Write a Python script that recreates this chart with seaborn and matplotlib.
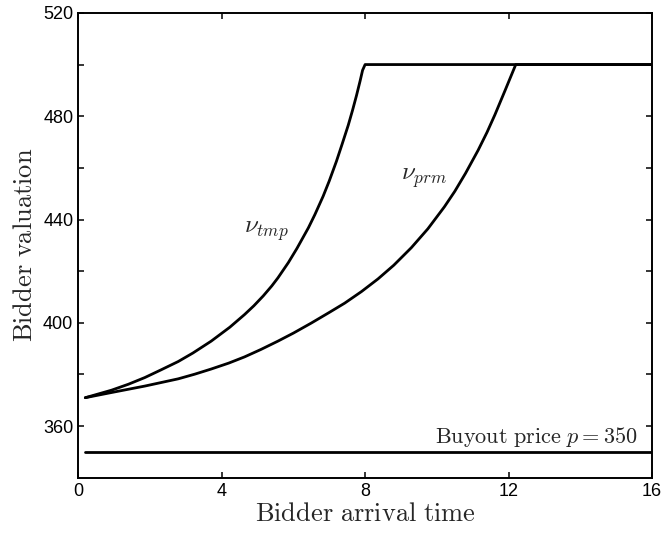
import pandas as pd
import numpy as np
import matplotlib
matplotlib.use('Agg')
import matplotlib.pyplot as plt
import seaborn as sns

# temporary-buyout bidder valuation threshold
tmp_time = [0.2, 0.93, 1.4, 1.86, 2.3, 2.79, 3.2, 3.71, 4.23, 4.64, 4.9, 5.16, 5.4, 5.57, 5.86,
            6.1, 6.42, 6.6, 6.83, 7.0, 7.2, 7.36, 7.53, 7.65, 7.76, 7.86, 7.93, 8.0, 16]
tmp_value = [371, 373.9, 376.2, 378.8, 381.7, 385.0, 388.3, 392.9, 398.3, 403.2, 406.6, 410.4, 414.3, 417.4, 423.3,
             428.8, 436.8, 441.9, 449.0, 454.9, 462.5, 469.2, 476.5, 482.3, 488.0, 493.6, 497.8, 500, 500]

# permanent-buyout bidder valuation threshold
prm_time = [0.2, 0.93, 1.86, 2.79, 3.25, 3.71, 4.2, 4.64, 5.1, 5.57, 6.0, 6.5, 7.0, 7.43, 7.9, 8.36,
            8.8, 9.29, 9.75, 10.21, 10.5, 10.8, 11.15, 11.4, 11.62, 11.9, 12.2, 16]
prm_value = [371, 373.0, 375.5, 378.3, 380.1, 382.1, 384.4, 386.8, 389.7, 392.9, 396.0, 399.9, 404.0, 407.6, 412.1, 417.0,
             422.3, 429.1, 436.4, 444.9, 450.9, 457.9, 466.8, 473.8, 480.6, 489.9, 500, 500]

buyout_time = [0.2, 16]
buyout_value = [350, 350]

df = pd.concat([
    pd.DataFrame({'time': tmp_time, 'value': tmp_value, 'curve': 'tmp'}),
    pd.DataFrame({'time': prm_time, 'value': prm_value, 'curve': 'prm'}),
    pd.DataFrame({'time': buyout_time, 'value': buyout_value, 'curve': 'buyout'}),
])

sns.set_style('ticks')
plt.rcParams['font.family'] = ['Liberation Sans', 'DejaVu Sans']
plt.rcParams['mathtext.fontset'] = 'cm'

fig, ax = plt.subplots(figsize=(6.62, 5.38), dpi=100)
sns.lineplot(data=df, x='time', y='value', hue='curve',
             palette={'tmp': 'black', 'prm': 'black', 'buyout': 'black'},
             estimator=None, sort=False, legend=False, linewidth=2.0, ax=ax)
for line in ax.lines:
    line.set_solid_joinstyle('round')

ax.set_xlim(0, 16)
ax.set_ylim(340, 520)
ax.set_xticks([0, 4, 8, 12, 16])
ax.set_yticks([360, 400, 440, 480, 520])
ax.set_yticks([380, 420, 460, 500], minor=True)
ax.tick_params(axis='both', which='both', direction='in', top=True, right=True,
               labelsize=13, length=4, width=1.1, colors='black')
for s in ax.spines.values():
    s.set_linewidth(1.4)
    s.set_color('black')

ax.set_xlabel(r'$\mathrm{Bidder\ arrival\ time}$', fontsize=19, labelpad=2)
ax.set_ylabel(r'$\mathrm{Bidder\ valuation}$', fontsize=19, labelpad=4)

ax.text(5.26, 435.7, r'$\nu_{tmp}$', fontsize=18, ha='center', va='center')
ax.text(9.64, 456, r'$\nu_{prm}$', fontsize=18, ha='center', va='center')
ax.text(15.6, 353.5, r'$\mathrm{Buyout\ price}\ p = 350$', fontsize=16, ha='right', va='baseline')

fig.subplots_adjust(left=0.118, right=0.985, top=0.976, bottom=0.112)
plt.savefig('out.png')
